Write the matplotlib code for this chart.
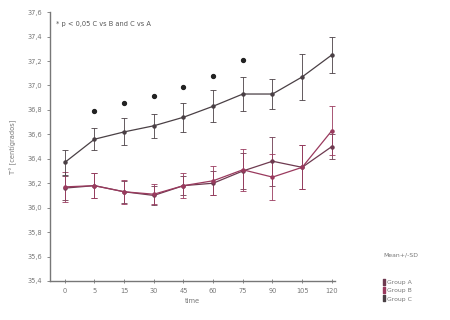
import matplotlib
matplotlib.use("Agg")
import matplotlib.pyplot as plt
from matplotlib.lines import Line2D

times = ["0", "5", "15", "30", "45", "60", "75", "90", "105", "120"]

group_a = [36.16, 36.18, 36.13, 36.10, 36.18, 36.20, 36.30, 36.38, 36.33, 36.50]
group_a_sd = [0.10, 0.10, 0.09, 0.08, 0.08, 0.10, 0.15, 0.20, 0.18, 0.10]
group_b = [36.17, 36.18, 36.13, 36.11, 36.18, 36.22, 36.31, 36.25, 36.33, 36.63]
group_b_sd = [0.12, 0.10, 0.10, 0.08, 0.10, 0.12, 0.17, 0.19, 0.18, 0.20]
group_c = [36.37, 36.56, 36.62, 36.67, 36.74, 36.83, 36.93, 36.93, 37.07, 37.25]
group_c_sd = [0.10, 0.09, 0.11, 0.10, 0.12, 0.13, 0.14, 0.12, 0.19, 0.15]

star_times = ["5", "15", "30", "45", "60", "75"]
star_y = [36.79, 36.86, 36.91, 36.99, 37.08, 37.21]

yticks = [35.4, 35.6, 35.8, 36.0, 36.2, 36.4, 36.6, 36.8, 37.0, 37.2, 37.4, 37.6]

colors = {"Group A": "#6e3a50", "Group B": "#9a3a5e", "Group C": "#4a4045"}

fig = plt.figure(figsize=(4.5, 3.2), dpi=100)
ax = fig.add_axes([0.111, 0.122, 0.633, 0.84])

x = list(range(len(times)))
for name, vals, sd in [("Group A", group_a, group_a_sd),
                       ("Group B", group_b, group_b_sd),
                       ("Group C", group_c, group_c_sd)]:
    ax.errorbar(x, vals, yerr=sd, color=colors[name], lw=0.9, marker="o",
                ms=2.2, capsize=2, elinewidth=0.6, capthick=0.6)

sx = [times.index(t) for t in star_times]
ax.plot(sx, star_y, ls="none", marker="o", ms=2.8, color="#222222")

ax.set_xlim(-0.5, 9.1)
ax.set_ylim(35.4, 37.6)
ax.set_xticks(x)
ax.set_xticklabels(times)
ax.set_yticks(yticks)
ax.set_yticklabels([f"{v:.1f}".replace(".", ",") for v in yticks])
for s in ["top", "right"]:
    ax.spines[s].set_visible(False)
for s in ["left", "bottom"]:
    ax.spines[s].set_color("#777777")
    ax.spines[s].set_linewidth(1.0)
ax.tick_params(axis="both", labelsize=4.8, colors="#777777", length=2, width=0.6)
ax.tick_params(axis="x", direction="inout", length=3)
ax.set_xlabel("time", fontsize=4.8, color="#777777", labelpad=3)
ax.set_ylabel("T° [centígrados]", fontsize=4.8, color="#777777", labelpad=8)

ax.text(0.02, 0.955, "* p < 0,05 C vs B and C vs A", transform=ax.transAxes,
        fontsize=4.8, color="#555555", va="center")

fig.text(0.89, 0.203, "Mean+/-SD", fontsize=4.4, color="#777777", ha="center", va="center")
handles = [Line2D([0], [0], color=colors[n], marker="$\\mathbf{I}$", ms=4, ls="none")
           for n in ["Group A", "Group B", "Group C"]]
fig.legend(handles, ["Group A", "Group B", "Group C"], loc="center left",
           bbox_to_anchor=(0.835, 0.092), frameon=False, fontsize=4.4,
           handletextpad=0.2, labelspacing=0.5, handlelength=0.8,
           labelcolor="#777777")

fig.savefig("out.png", dpi=100)
